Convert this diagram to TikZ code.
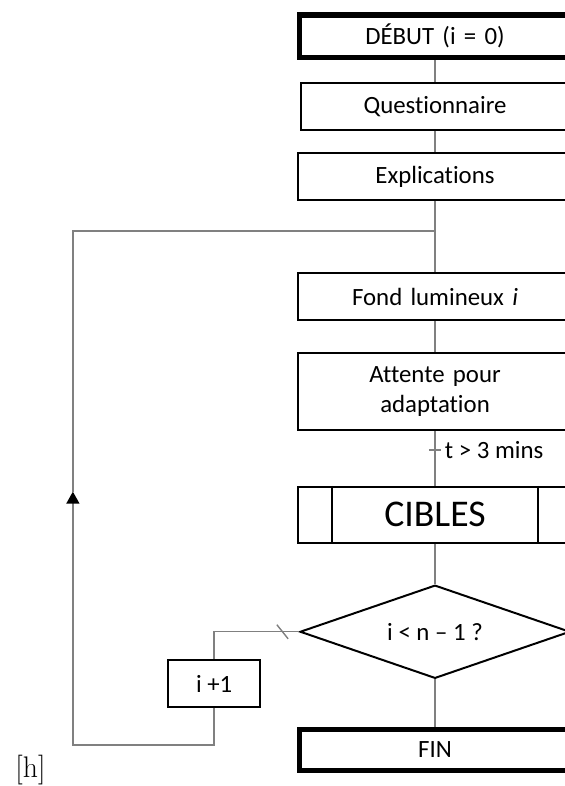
\documentclass[tikz,border=0pt]{standalone}
\usepackage{fontspec}
\newfontfamily\calibri[Ligatures=NoCommon]{Carlito}
\usetikzlibrary{shapes,arrows.meta,positioning}

\begin{document}
\begin{tikzpicture}[
    box/.style={rectangle, draw, line width=1pt, text width=4.5cm, align=center, minimum width=4.85cm, minimum height=0.83cm, font=\calibri\fontsize{12.5}{15}\selectfont},
    term/.style={box, line width=2.75pt, minimum width=4.8cm, minimum height=0.76cm},
    decision/.style={diamond, draw, line width=1pt, aspect=2.9, inner sep=0pt, minimum width=4.78cm, minimum height=1.65cm, font=\calibri\fontsize{12.5}{15}\selectfont},
    link/.style={draw=black!50, line width=0.7pt},
    arrow/.style={link, -{Triangle[width=6.5pt, length=6pt, color=black]}}
]
    \useasboundingbox (0,0) rectangle (10,13.912);

    \node[term] (debut) at (7.70,13.27) {DÉBUT (i = 0)};
    \node[box, minimum width=4.71cm] (quest) at (7.70,12.03) {Questionnaire};
    \node[box] (expl) at (7.70,10.79) {Explications};
    \node[box] (fond) at (7.70,8.66) {Fond lumineux \textit{i}};
    \node[box, minimum height=1.36cm] (attente) at (7.70,6.98) {Attente pour\\adaptation};
    \node[box, minimum height=0.99cm, font=\calibri\fontsize{19}{22}\selectfont] (cibles) at (7.70,4.80) {CIBLES};
    \node[decision] (test) at (7.70,2.73) {i < n – 1 ?};
    \node[term, minimum height=0.73cm] (fin) at (7.70,0.637) {FIN};
    \node[box, text width=, minimum width=1.63cm] (incr) at (3.79,1.81) {i +1};
    \node[font=\fontsize{15}{18}\selectfont] (hmark) at (0.54,0.28) {[h]};

    % side bars of the CIBLES box
    \draw[line width=1pt] ([xshift=0.62cm]cibles.north west) -- ([xshift=0.62cm]cibles.south west);
    \draw[line width=1pt] ([xshift=-0.62cm]cibles.north east) -- ([xshift=-0.62cm]cibles.south east);

    \coordinate (join) at (7.70,9.82);
    \coordinate (tcut) at (7.70,5.95);
    \coordinate (nocut) at (5.0,2.73);
    \coordinate (loopbl) at (1.29,0.726);
    \coordinate (arrowtip) at (1.29,5.21);

    \draw[link] (debut) -- (quest);
    \draw[link] (quest) -- (expl);
    \draw[link] (expl) -- (join) -- (fond);
    \draw[link] (fond) -- (attente);
    \draw[link] (attente) -- (cibles);
    \draw[link] ([xshift=-0.11cm]tcut) -- ([xshift=0.11cm]tcut)
        node[right, inner sep=1.5pt, font=\calibri\fontsize{12.5}{15}\selectfont] (tlabel) {t > 3 mins};
    \draw[link] (cibles) -- (test);
    \draw[link] (test) -- (fin);

    % loop back
    \draw[link] (test.west) -| (incr.north);
    \draw[link] ([shift={(-0.1,0.125)}]nocut) -- ([shift={(0.1,-0.125)}]nocut);
    \draw[arrow] (incr.south) |- (loopbl) -- (arrowtip);
    \draw[link] (arrowtip) |- (join);
\end{tikzpicture}
\end{document}
